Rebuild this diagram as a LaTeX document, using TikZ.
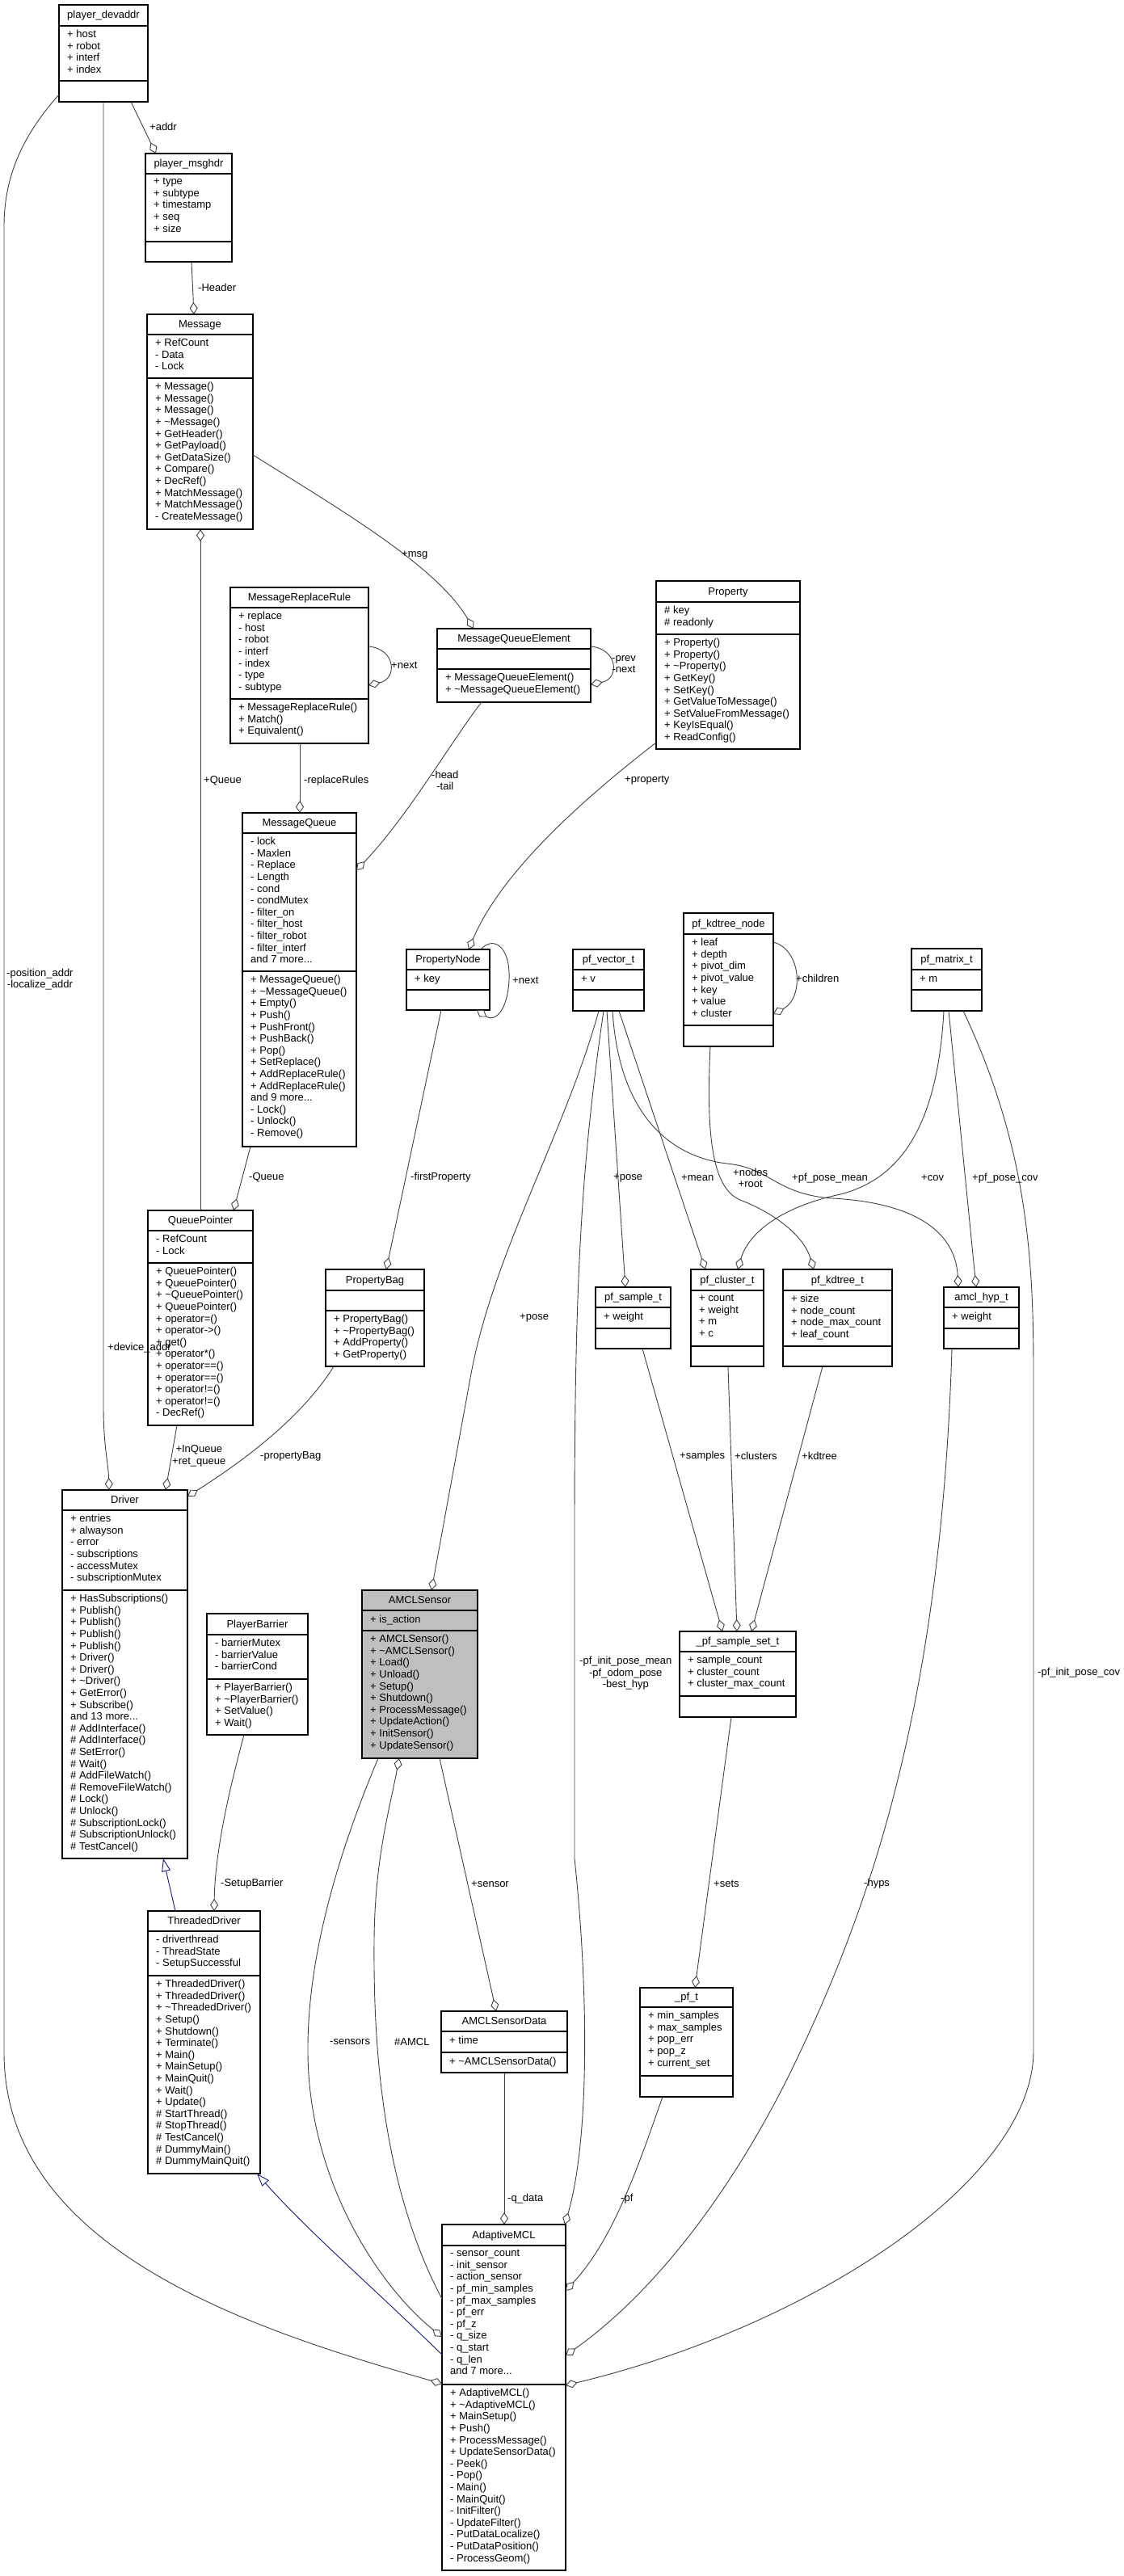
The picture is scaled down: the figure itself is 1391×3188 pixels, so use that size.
\documentclass[tikz,border=0pt]{standalone}
\usepackage{fontspec}
\setmainfont{Liberation Sans}
\usetikzlibrary{arrows.meta, calc}

\definecolor{edgegray}{HTML}{404040}
\definecolor{inheritblue}{HTML}{191970}
\definecolor{focusgray}{HTML}{BFBFBF}

\newcommand{\umlfont}{\fontsize{13}{14.6}\selectfont}
\newcommand{\tildech}{\textasciitilde}

\tikzset{
  classbox/.style={draw=black, line width=1.1pt, fill=white, inner sep=0pt, outer sep=0pt, anchor=north west},
  classtitle/.style={anchor=base, inner sep=0pt, font=\umlfont},
  memberlist/.style={anchor=north west, inner sep=0pt, align=left, font=\umlfont, execute at begin node=\strut},
  agg/.style={draw=edgegray, line width=0.9pt, -{Diamond[fill=white, length=15pt, width=10pt]}},
  inherit/.style={draw=inheritblue, line width=0.9pt, -{Triangle[fill=white, length=16pt, width=11pt]}},
  lbl/.style={anchor=west, inner sep=0pt, align=center, font=\umlfont},
}

% box: [opts]{name}{x1}{y1}{x2}{y2}{sep1}{sep2}{title}, then {attributes}{operations}
\newcommand{\umlclass}[9][]{%
  \node[classbox, minimum width={(#5-#3)*1pt}, minimum height={(#6-#4)*1pt}, #1] (#2) at (#3,#4) {};
  \draw[line width=1.1pt] (#3,#7) -- (#5,#7) (#3,#8) -- (#5,#8);
  \node[classtitle] (#2-title) at ({(#3+#5)/2},{#7-9}) {#9};
  \gdef\umlx{#3}\gdef\umlsa{#7}\gdef\umlsb{#8}%
  \umlmembers{#2}}
\newcommand{\umlmembers}[3]{%
  \node[memberlist] (#1-attrs) at ({\umlx+10},{\umlsa+5}) {#2};
  \node[memberlist] (#1-ops) at ({\umlx+10},{\umlsb+5}) {#3};}

\begin{document}
\begin{tikzpicture}[x=1pt, y=-1pt]
\useasboundingbox (0,0) rectangle (1391,3188);

\umlclass{devaddr}{73}{6}{183}{126}{32}{100}{player\_devaddr}
  {+ host\\+ robot\\+ interf\\+ index}{}
\umlclass{msghdr}{180}{190}{287}{324}{215}{299}{player\_msghdr}
  {+ type\\+ subtype\\+ timestamp\\+ seq\\+ size}{}
\umlclass{message}{182}{389}{313}{655}{414}{468}{Message}
  {+ RefCount\\- Data\\- Lock}
  {+ Message()\\+ Message()\\+ Message()\\+ \tildech Message()\\+ GetHeader()\\+ GetPayload()\\+ GetDataSize()\\+ Compare()\\+ DecRef()\\+ MatchMessage()\\+ MatchMessage()\\- CreateMessage()}
\umlclass{replacerule}{285}{727}{456}{920}{752}{865}{MessageReplaceRule}
  {+ replace\\- host\\- robot\\- interf\\- index\\- type\\- subtype}
  {+ MessageReplaceRule()\\+ Match()\\+ Equivalent()}
\umlclass{mqelement}{541}{778}{731}{869}{803}{828}{MessageQueueElement}
  {}{+ MessageQueueElement()\\+ \tildech MessageQueueElement()}
\umlclass{property}{812}{719}{990}{927}{745}{785}{Property}
  {\# key\\\# readonly}
  {+ Property()\\+ Property()\\+ \tildech Property()\\+ GetKey()\\+ SetKey()\\+ GetValueToMessage()\\+ SetValueFromMessage()\\+ KeyIsEqual()\\+ ReadConfig()}
\umlclass{msgqueue}{300}{1006}{441}{1419}{1031}{1202}{MessageQueue}
  {- lock\\- Maxlen\\- Replace\\- Length\\- cond\\- condMutex\\- filter\_on\\- filter\_host\\- filter\_robot\\- filter\_interf\\and 7 more...}
  {+ MessageQueue()\\+ \tildech MessageQueue()\\+ Empty()\\+ Push()\\+ PushFront()\\+ PushBack()\\+ Pop()\\+ SetReplace()\\+ AddReplaceRule()\\+ AddReplaceRule()\\and 9 more...\\- Lock()\\- Unlock()\\- Remove()}
\umlclass{propnode}{503}{1175}{606}{1250}{1200}{1225}{PropertyNode}{+ key}{}
\umlclass{pfvector}{709}{1175}{797}{1251}{1200}{1225}{pf\_vector\_t}{+ v}{}
\umlclass{kdnode}{846}{1130}{957}{1295}{1156}{1269}{pf\_kdtree\_node}
  {+ leaf\\+ depth\\+ pivot\_dim\\+ pivot\_value\\+ key\\+ value\\+ cluster}{}
\umlclass{pfmatrix}{1128}{1174}{1215}{1251}{1200}{1225}{pf\_matrix\_t}{+ m}{}
\umlclass{qpointer}{183}{1498}{313}{1764}{1523}{1563}{QueuePointer}
  {- RefCount\\- Lock}
  {+ QueuePointer()\\+ QueuePointer()\\+ \tildech QueuePointer()\\+ QueuePointer()\\+ operator=()\\+ operator->()\\+ get()\\+ operator*()\\+ operator==()\\+ operator==()\\+ operator!=()\\+ operator!=()\\- DecRef()}
\umlclass{propbag}{403}{1571}{525}{1691}{1597}{1622}{PropertyBag}
  {}{+ PropertyBag()\\+ \tildech PropertyBag()\\+ AddProperty()\\+ GetProperty()}
\umlclass{pfsample}{737}{1593}{830}{1669}{1618}{1644}{pf\_sample\_t}{+ weight}{}
\umlclass{pfcluster}{855}{1571}{945}{1691}{1597}{1666}{pf\_cluster\_t}
  {+ count\\+ weight\\+ m\\+ c}{}
\umlclass{pfkdtree}{969}{1571}{1104}{1691}{1597}{1666}{pf\_kdtree\_t}
  {+ size\\+ node\_count\\+ node\_max\_count\\+ leaf\_count}{}
\umlclass{amclhyp}{1168}{1593}{1261}{1669}{1618}{1644}{amcl\_hyp\_t}{+ weight}{}
\umlclass{driver}{77}{1844}{232}{2300}{1869}{1968}{Driver}
  {+ entries\\+ alwayson\\- error\\- subscriptions\\- accessMutex\\- subscriptionMutex}
  {+ HasSubscriptions()\\+ Publish()\\+ Publish()\\+ Publish()\\+ Publish()\\+ Driver()\\+ Driver()\\+ \tildech Driver()\\+ GetError()\\+ Subscribe()\\and 13 more...\\\# AddInterface()\\\# AddInterface()\\\# SetError()\\\# Wait()\\\# AddFileWatch()\\\# RemoveFileWatch()\\\# Lock()\\\# Unlock()\\\# SubscriptionLock()\\\# SubscriptionUnlock()\\\# TestCancel()}
\umlclass{barrier}{256}{1997}{381}{2147}{2023}{2078}{PlayerBarrier}
  {- barrierMutex\\- barrierValue\\- barrierCond}
  {+ PlayerBarrier()\\+ \tildech PlayerBarrier()\\+ SetValue()\\+ Wait()}
\umlclass{tdriver}{183}{2365}{322}{2690}{2390}{2445}{ThreadedDriver}
  {- driverthread\\- ThreadState\\- SetupSuccessful}
  {+ ThreadedDriver()\\+ ThreadedDriver()\\+ \tildech ThreadedDriver()\\+ Setup()\\+ Shutdown()\\+ Terminate()\\+ Main()\\+ MainSetup()\\+ MainQuit()\\+ Wait()\\+ Update()\\\# StartThread()\\\# StopThread()\\\# TestCancel()\\\# DummyMain()\\\# DummyMainQuit()}
\umlclass[fill=focusgray]{sensor}{448}{1968}{591}{2176}{1993}{2018}{AMCLSensor}
  {+ is\_action}
  {+ AMCLSensor()\\+ \tildech AMCLSensor()\\+ Load()\\+ Unload()\\+ Setup()\\+ Shutdown()\\+ ProcessMessage()\\+ UpdateAction()\\+ InitSensor()\\+ UpdateSensor()}
\umlclass{sampleset}{841}{2019}{985}{2125}{2044}{2099}{\_pf\_sample\_set\_t}
  {+ sample\_count\\+ cluster\_count\\+ cluster\_max\_count}{}
\umlclass{pf}{792}{2460}{907}{2595}{2484}{2569}{\_pf\_t}
  {+ min\_samples\\+ max\_samples\\+ pop\_err\\+ pop\_z\\+ current\_set}{}
\umlclass{sensordata}{546}{2489}{702}{2565}{2514}{2540}{AMCLSensorData}
  {+ time}{+ \tildech AMCLSensorData()}
\umlclass{amcl}{547}{2753}{700}{3181}{2779}{2951}{AdaptiveMCL}
  {- sensor\_count\\- init\_sensor\\- action\_sensor\\- pf\_min\_samples\\- pf\_max\_samples\\- pf\_err\\- pf\_z\\- q\_size\\- q\_start\\- q\_len\\and 7 more...}
  {+ AdaptiveMCL()\\+ \tildech AdaptiveMCL()\\+ MainSetup()\\+ Push()\\+ ProcessMessage()\\+ UpdateSensorData()\\- Peek()\\- Pop()\\- Main()\\- MainQuit()\\- InitFilter()\\- UpdateFilter()\\- PutDataLocalize()\\- PutDataPosition()\\- ProcessGeom()}

% straight members, diamond on the owner
\foreach \src/\sx/\dst/\dx in {devaddr/162/msghdr/193, msghdr/237/message/240,
    replacerule/371/msgqueue/371, propnode/546/propbag/478, msgqueue/310/qpointer/289,
    qpointer/219/driver/205, pfvector/751/pfsample/774, pfvector/766/pfcluster/873,
    pfmatrix/1174/amclhyp/1208, pfsample/795/sampleset/894, pfcluster/901/sampleset/912,
    pfkdtree/1018/sampleset/930, sampleset/905/pf/860, sensor/544/sensordata/614,
    sensordata/624/amcl/624}
  \draw[agg] (\src.south -| \sx,0) -- (\dst.north -| \dx,0);
\draw[agg] (qpointer.north -| 248,0) -- (message.south -| 248,0);

% curved members
\draw[agg] (devaddr.south -| 128,0) -- (128,1740) .. controls (128,1790) and (134,1810) .. (driver.north -| 135,0);
\draw[agg] (devaddr.west |- 0,117) .. controls (35,160) and (5,210) .. (5,280) -- (5,2540)
  .. controls (5,2780) and (300,2880) .. (amcl.west |- 0,2950);
\draw[agg] (message.east |- 0,563) .. controls (420,630) and (540,700) .. (mqelement.north -| 586,0);
\draw[agg] (mqelement.south -| 596,0) .. controls (560,915) and (505,1010) .. (msgqueue.east |- 0,1077);
\draw[agg] (property.west |- 0,919) .. controls (720,990) and (620,1080) .. (propnode.north -| 580,0);
\draw[agg] (propbag.south -| 413,0) .. controls (370,1760) and (290,1815) .. (driver.east |- 0,1852);
\draw[agg] (barrier.south -| 302,0) .. controls (285,2210) and (266,2290) .. (tdriver.north -| 265,0);
\draw[agg] (pfvector.south -| 741,0) .. controls (700,1400) and (611,1550) .. (583,1700) -- (sensor.north -| 534,0);
\draw[agg] (pfvector.south -| 747,0) .. controls (718,1450) and (711,1600) .. (711,1900) -- (711,2300)
  .. controls (729,2470) and (729,2650) .. (amcl.north -| 699,0);
\draw[agg] (pfvector.south -| 758,0) .. controls (766,1380) and (830,1432) .. (900,1440)
  .. controls (955,1446) and (960,1478) .. (1030,1483) .. controls (1125,1488) and (1182,1520) .. (amclhyp.north -| 1186,0);
\draw[agg] (kdnode.south -| 879,0) .. controls (874,1400) and (880,1470) .. (916,1485)
  .. controls (960,1502) and (995,1530) .. (pfkdtree.north -| 1007,0);
\draw[agg] (pfmatrix.south -| 1168,0) .. controls (1160,1400) and (1110,1460) .. (1040,1478)
  .. controls (960,1495) and (925,1530) .. (pfcluster.north -| 913,0);
\draw[agg] (pfmatrix.south -| 1192,0) .. controls (1272,1420) and (1279,1560) .. (1279,1700) -- (1279,2538)
  .. controls (1279,2700) and (1000,2880) .. (amcl.east |- 0,2952);
\draw[agg] (amclhyp.south -| 1178,0) .. controls (1165,2100) and (1080,2350) .. (990,2540)
  .. controls (920,2690) and (820,2830) .. (amcl.east |- 0,2915);
\draw[agg] (pf.south -| 820,0) .. controls (790,2680) and (760,2770) .. (amcl.east |- 0,2835);
\draw[agg] (sensor.south -| 468,0) .. controls (420,2290) and (380,2420) .. (381,2540)
  .. controls (382,2700) and (470,2830) .. (amcl.west |- 0,2892);
\draw[agg] (amcl.west |- 0,2845) .. controls (470,2700) and (462,2520) .. (463,2400)
  .. controls (464,2300) and (482,2240) .. (sensor.south -| 494,0);

% self references
\draw[agg] (replacerule.east |- 0,800) .. controls (490,803) and (492,840) .. (replacerule.east |- 0,848);
\draw[agg] (mqelement.east |- 0,800) .. controls (765,803) and (767,840) .. (mqelement.east |- 0,847);
\draw[agg] (kdnode.east |- 0,1166) .. controls (992,1175) and (995,1235) .. (kdnode.east |- 0,1255);
\draw[agg] (propnode.north -| 595,0) .. controls (610,1158) and (632,1170) .. (630,1213)
  .. controls (628,1252) and (612,1265) .. (propnode.south -| 590,0);

% inheritance
\draw[inherit] (tdriver.north -| 217,0) -- (driver.south -| 202,0);
\draw[inherit] (amcl.west |- 0,2914) .. controls (450,2820) and (380,2760) .. (tdriver.south -| 318,0);

% role names
\foreach \x/\y/\txt [count=\i] in {185/157/+addr, 245/356/-Header, 497/687/+msg,
    133/1668/+device\_addr, 252/966/+Queue, 376/966/-replaceRules, 484/823/+next,
    773/966/+property, 634/1213/+next, 985/1211/+children, 508/1457/-firstProperty,
    308/1457/-Queue, 759/1458/+pose, 843/1458/+mean, 980/1458/+pf\_pose\_mean,
    1140/1458/+cov, 1203/1458/+pf\_pose\_cov, 643/1631/+pose, 322/1802/-propertyBag,
    841/1802/+samples, 909/1802/+clusters, 992/1802/+kdtree, 1284/2070/-pf\_init\_pose\_cov,
    273/2331/-SetupBarrier, 1069/2331/-hyps, 883/2331/+sets, 583/2332/+sensor,
    408/2527/-sensors, 488/2527/\#AMCL, 628/2721/-q\_data, 768/2721/-pf}
  \node[lbl] (lbl\i) at (\x,\y) {\txt};
\node[lbl] (lbladdr) at (8,1212) {-position\_addr\\-localize\_addr};
\node[lbl] (lblprev) at (757,822) {-prev\\-next};
\node[lbl] (lblhead) at (534,966) {-head\\-tail};
\node[lbl] (lblinq) at (213,1802) {+InQueue\\+ret\_queue};
\node[lbl] (lblnodes) at (907,1458) {+nodes\\+root};
\node[lbl] (lblpose) at (717,2071) {-pf\_init\_pose\_mean\\-pf\_odom\_pose\\-best\_hyp};
\end{tikzpicture}
\end{document}
